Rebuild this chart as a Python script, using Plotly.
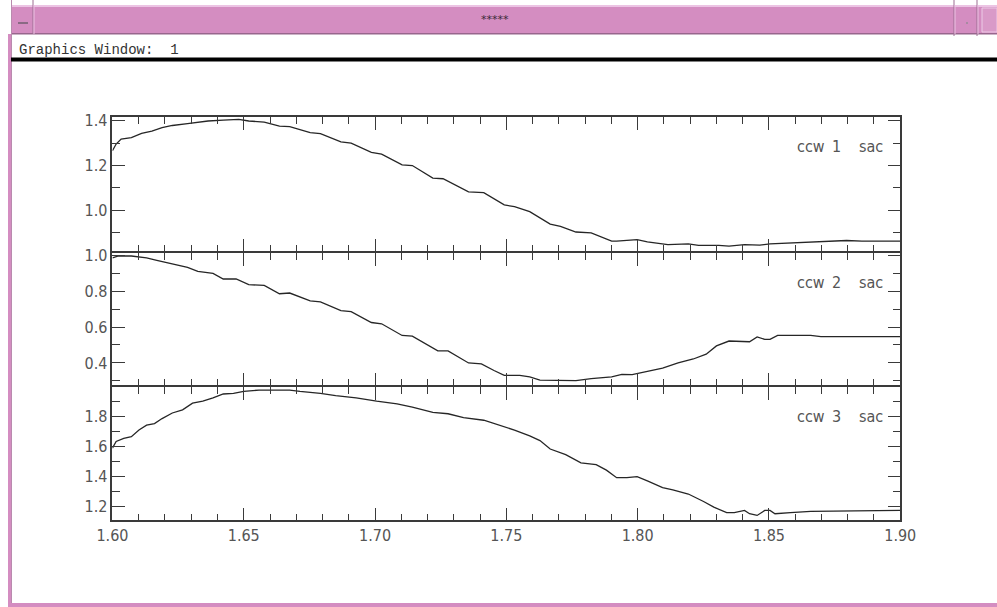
import plotly.graph_objects as go

# ---- data: three SAC traces over frequency ----
freq_1 = [1.6000, 1.6014, 1.6033, 1.6072, 1.6111, 1.6150, 1.6189, 1.6228, 1.6286, 1.6325,
          1.6364, 1.6422, 1.6481, 1.6519, 1.6578, 1.6636, 1.6675, 1.6753, 1.6792, 1.6870,
          1.6909, 1.6986, 1.7025, 1.7103, 1.7142, 1.7220, 1.7259, 1.7356, 1.7414, 1.7492,
          1.7531, 1.7589, 1.7667, 1.7706, 1.7765, 1.7823, 1.7901, 1.7920, 1.7998, 1.8037,
          1.8115, 1.8193, 1.8232, 1.8309, 1.8348, 1.8407, 1.8465, 1.8504, 1.8582, 1.8659,
          1.8737, 1.8796, 1.8854, 1.8893, 1.9000]
ccw_1 = [1.266, 1.296, 1.318, 1.325, 1.344, 1.354, 1.369, 1.379, 1.387, 1.394,
         1.399, 1.403, 1.406, 1.399, 1.394, 1.376, 1.374, 1.347, 1.343, 1.306,
         1.300, 1.259, 1.251, 1.203, 1.200, 1.144, 1.141, 1.082, 1.079, 1.024,
         1.016, 0.994, 0.938, 0.928, 0.903, 0.899, 0.862, 0.862, 0.869, 0.859,
         0.847, 0.850, 0.843, 0.843, 0.840, 0.847, 0.844, 0.850, 0.854, 0.859,
         0.862, 0.865, 0.862, 0.862, 0.862]

freq_2 = [1.6000, 1.6023, 1.6072, 1.6130, 1.6169, 1.6228, 1.6286, 1.6325, 1.6383, 1.6422,
          1.6471, 1.6519, 1.6578, 1.6636, 1.6675, 1.6753, 1.6792, 1.6870, 1.6909, 1.6986,
          1.7025, 1.7103, 1.7142, 1.7239, 1.7278, 1.7356, 1.7405, 1.7453, 1.7492, 1.7551,
          1.7589, 1.7628, 1.7687, 1.7765, 1.7823, 1.7901, 1.7940, 1.7979, 1.8037, 1.8095,
          1.8154, 1.8212, 1.8261, 1.8300, 1.8348, 1.8407, 1.8426, 1.8455, 1.8484, 1.8504,
          1.8533, 1.8659, 1.8698, 1.9000]
ccw_2 = [0.985, 0.995, 0.995, 0.985, 0.971, 0.949, 0.931, 0.909, 0.898, 0.867,
         0.867, 0.836, 0.831, 0.785, 0.789, 0.745, 0.740, 0.691, 0.685, 0.625,
         0.618, 0.553, 0.549, 0.467, 0.467, 0.400, 0.395, 0.358, 0.331, 0.331,
         0.322, 0.305, 0.304, 0.302, 0.313, 0.322, 0.336, 0.335, 0.353, 0.371,
         0.400, 0.422, 0.449, 0.495, 0.522, 0.522, 0.518, 0.545, 0.531, 0.531,
         0.553, 0.553, 0.547, 0.547]

freq_3 = [1.6000, 1.6014, 1.6043, 1.6072, 1.6101, 1.6130, 1.6160, 1.6189, 1.6228, 1.6267,
          1.6305, 1.6344, 1.6383, 1.6422, 1.6461, 1.6500, 1.6558, 1.6617, 1.6675, 1.6714,
          1.6792, 1.6850, 1.6928, 1.7006, 1.7084, 1.7142, 1.7220, 1.7278, 1.7337, 1.7414,
          1.7473, 1.7531, 1.7589, 1.7628, 1.7667, 1.7726, 1.7784, 1.7842, 1.7881, 1.7920,
          1.7959, 1.7998, 1.8037, 1.8095, 1.8134, 1.8193, 1.8251, 1.8290, 1.8339, 1.8368,
          1.8407, 1.8426, 1.8455, 1.8484, 1.8504, 1.8523, 1.8582, 1.8659, 1.9000]
ccw_3 = [1.589, 1.633, 1.654, 1.665, 1.709, 1.741, 1.752, 1.785, 1.822, 1.843,
         1.887, 1.900, 1.922, 1.948, 1.952, 1.965, 1.974, 1.976, 1.974, 1.965,
         1.952, 1.937, 1.922, 1.900, 1.883, 1.861, 1.826, 1.817, 1.791, 1.774,
         1.741, 1.709, 1.670, 1.639, 1.583, 1.546, 1.491, 1.480, 1.443, 1.393,
         1.393, 1.400, 1.372, 1.328, 1.313, 1.285, 1.235, 1.198, 1.161, 1.161,
         1.176, 1.154, 1.143, 1.176, 1.176, 1.154, 1.161, 1.170, 1.176]

trace_labels = [("ccw", "1", "sac"), ("ccw", "2", "sac"), ("ccw", "3", "sac")]
window_title = "*****"
window_caption = "Graphics Window:  1"

# ---- page geometry (pixels) ----
W, H = 997, 607
PLOT_L, PLOT_R = 111.7, 901.0
PANEL_EDGES = [116.0, 252.0, 386.0, 521.0]
Y_RANGES = [[0.817, 1.418], [0.276, 1.013], [1.111, 1.996]]
LW = 1.5          # frame line width; domains are inset by LW/2 so shared edges coincide


def fx(px):
    return px / W


def fy(py):
    return 1 - py / H


INK = "#3a3a3a"
LABEL_FONT = dict(family="Liberation Sans Narrow, DejaVu Sans Condensed, Liberation Sans, sans-serif",
                  size=16, color="#555555")
PINK = "#d48dc1"

fig = go.Figure()

series = [(freq_1, ccw_1), (freq_2, ccw_2), (freq_3, ccw_3)]
for i, (fr, val) in enumerate(series):
    sfx = "" if i == 0 else str(i + 1)
    fig.add_trace(go.Scatter(x=fr, y=val, mode="lines", xaxis="x" + sfx, yaxis="y" + sfx,
                             line=dict(color="#262626", width=1.3), showlegend=False,
                             hoverinfo="skip"))

layout = dict(width=W, height=H, autosize=False,
              margin=dict(l=0, r=0, t=0, b=0, pad=0, autoexpand=False),
              paper_bgcolor="white", plot_bgcolor="white", showlegend=False)

for i in range(3):
    sfx = "" if i == 0 else str(i + 1)
    top, bot = PANEL_EDGES[i] + LW / 2, PANEL_EDGES[i + 1] - LW / 2
    layout["xaxis" + sfx] = dict(
        domain=[fx(PLOT_L + LW / 2), fx(PLOT_R - LW / 2)], range=[1.60, 1.90], anchor="y" + sfx,
        automargin=False,
        showgrid=False, zeroline=False, showline=True, linecolor=INK, linewidth=LW,
        mirror="ticks", ticks="inside", ticklen=13, tickwidth=1.3, tickcolor=INK,
        tick0=1.6, dtick=0.05, tickformat=".2f",
        minor=dict(dtick=0.01, ticklen=7, tickwidth=1.2, tickcolor=INK, ticks="inside",
                   showgrid=False),
        showticklabels=(i == 2), tickfont=LABEL_FONT,
    )
    layout["yaxis" + sfx] = dict(
        domain=[fy(bot), fy(top)], range=Y_RANGES[i], anchor="x" + sfx,
        automargin=False,
        showgrid=False, zeroline=False, showline=True, linecolor=INK, linewidth=LW,
        mirror="ticks", ticks="inside", ticklen=13, tickwidth=1.3, tickcolor=INK,
        tick0=0, dtick=0.2, tickformat=".1f",
        minor=dict(dtick=0.1, ticklen=8, tickwidth=1.2, tickcolor=INK, ticks="inside",
                   showgrid=False),
        showticklabels=True, tickfont=LABEL_FONT,
    )

fig.update_layout(**layout)

# ---- trace identification labels ----
label_y = [147, 282, 416]
ann_font = dict(family=LABEL_FONT["family"], size=16, color="#555555")
for (a, b, c), yy in zip(trace_labels, label_y):
    for txt, xc in ((a, 811), (b, 836.5), (c, 871)):
        fig.add_annotation(x=fx(xc), y=fy(yy), xref="paper", yref="paper", text=txt,
                           showarrow=False, font=ann_font, xanchor="center", yanchor="middle")

# ---- window frame ----
shapes = []


def rect(x0, y0, x1, y1, fill, line=None, lw=0):
    shapes.append(dict(type="rect", xref="paper", yref="paper",
                       x0=fx(x0), x1=fx(x1), y0=fy(y1), y1=fy(y0),
                       fillcolor=fill, line=dict(color=line or fill, width=lw), layer="above"))


def seg(x0, y0, x1, y1, color, lw=1):
    shapes.append(dict(type="line", xref="paper", yref="paper",
                       x0=fx(x0), x1=fx(x1), y0=fy(y0), y1=fy(y1),
                       line=dict(color=color, width=lw), layer="above"))


rect(11, 5, 997, 7, "#ecc4e4")
rect(11, 7, 997, 33, PINK)
rect(11, 33, 997, 34.5, "#98668d")
seg(11.5, 0, 11.5, 607, "#b98aae", 1)
seg(33, 0, 33, 34, "#9d6f93", 1)
seg(34, 5, 34, 34, "#ecc4e4", 1)
seg(18, 23, 28, 23, "#8a6a84", 2)
seg(954, 0, 954, 36, "#9d6f93", 1)
seg(955, 5, 955, 34, "#ecc4e4", 1)
seg(977, 0, 977, 36, "#9d6f93", 1)
seg(978, 5, 978, 34, "#ecc4e4", 1)
rect(966, 22, 968, 24, "#a88aa2")
rect(982, 8, 997, 32, "#d99ac8", "#eccbe6", 1)
rect(8, 34, 11, 607, PINK)
rect(8, 603, 997, 607, PINK)
rect(11, 57.5, 997, 61.5, "#000000")

fig.update_layout(shapes=shapes)

fig.add_annotation(x=fx(495), y=fy(19), xref="paper", yref="paper", text=window_title,
                   showarrow=False, font=dict(family="DejaVu Sans", size=11, color="#3b2b38"),
                   xanchor="center", yanchor="middle")
fig.add_annotation(x=fx(17), y=fy(50), xref="paper", yref="paper", text=window_caption,
                   showarrow=False, font=dict(family="Liberation Mono, DejaVu Sans Mono, monospace",
                                              size=14, color="#333333"),
                   xanchor="left", yanchor="middle")

# fixed-size page: no body margin, no scrollbars, no responsive resizing
fig.write_html(
    "out.html",
    config={"responsive": False, "displayModeBar": False},
    default_width="997px",
    default_height="607px",
    post_script="document.body.style.margin='0';document.body.style.overflow='hidden';",
)
